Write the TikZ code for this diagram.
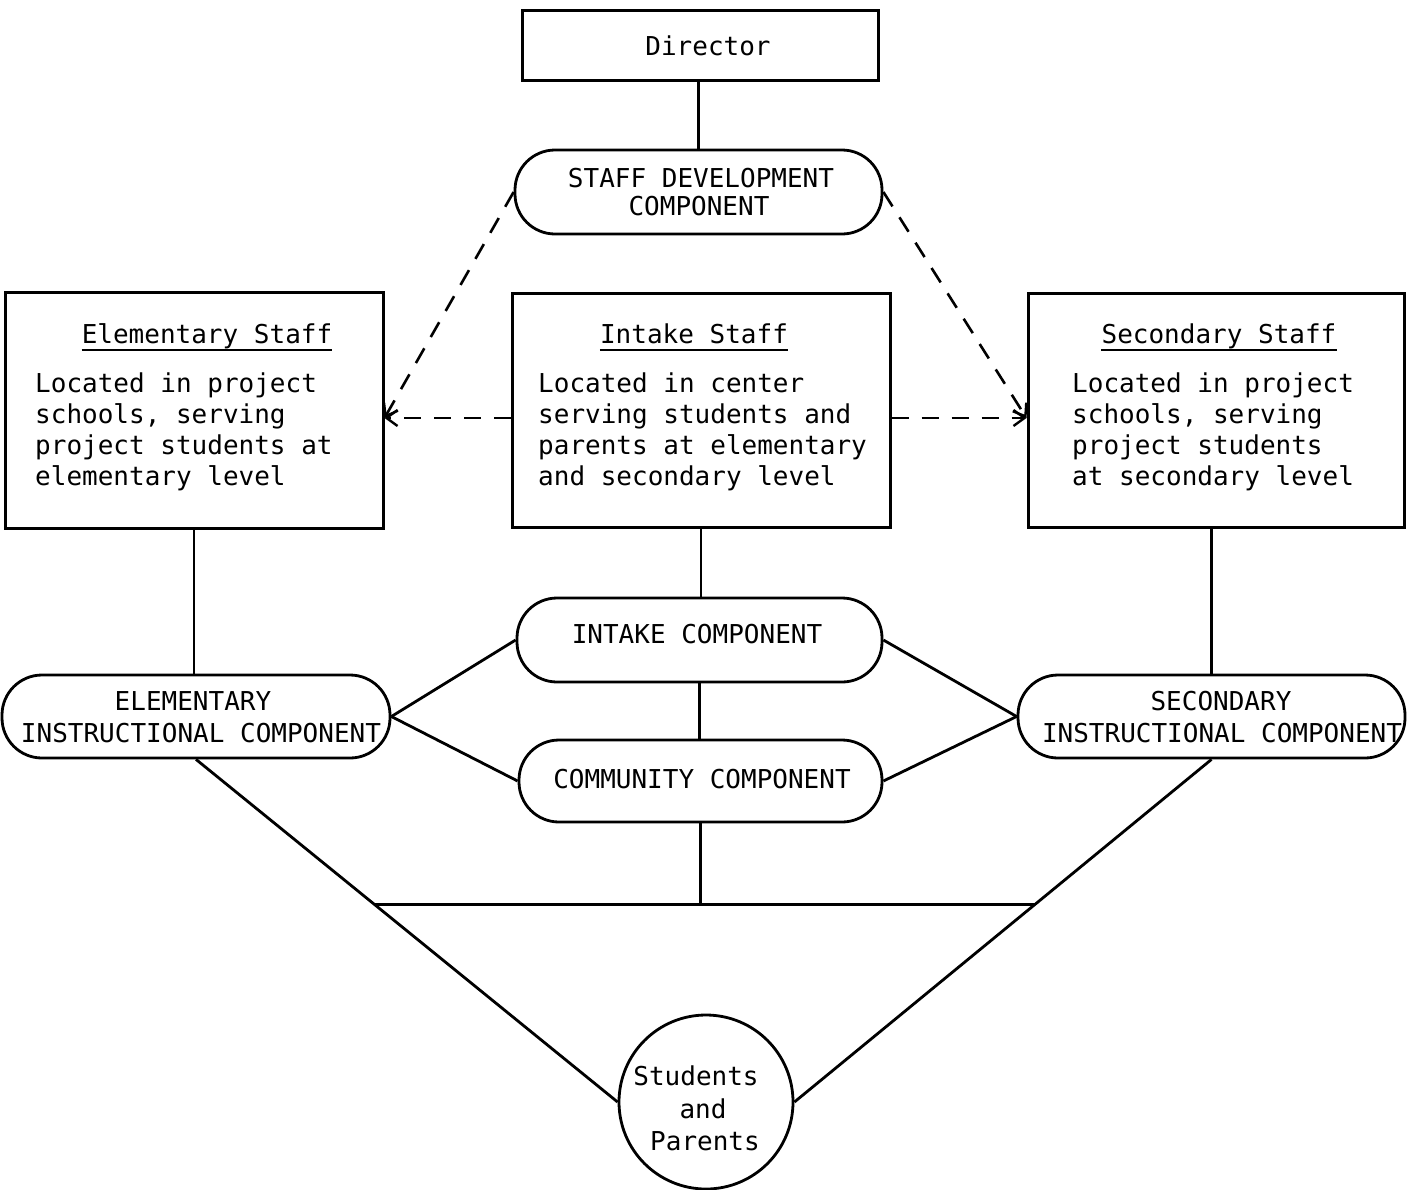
\documentclass[tikz,border=0pt]{standalone}
\usepackage{fontspec}
\setmonofont{DejaVu Sans Mono}
\usetikzlibrary{arrows.meta,calc}
\begin{document}
\begin{tikzpicture}[x=1pt,y=-1pt,
  every node/.style={font=\ttfamily\fontsize{26}{31}\selectfont},
  txt/.style={inner sep=0pt, anchor=base},
  ltxt/.style={inner sep=0pt, anchor=base west},
  box/.style={draw, line width=3pt, inner sep=0pt},
  pill/.style={draw, line width=2.8pt, inner sep=0pt, rounded corners=40pt},
  link/.style={line width=2.8pt},
  uline/.style={line width=2.2pt},
  dlink/.style={line width=2.6pt, dash pattern=on 17pt off 13pt,
    -{Straight Barb[length=11pt,width=16pt,line width=2.4pt]}},
]
% page frame
\fill[white] (0,0) rectangle (1407,1189);
\useasboundingbox (0,0) rectangle (1407,1189);

% ---------- boxes and pills ----------
\node[box, minimum width=356pt, minimum height=70pt] (director) at (700,45) {};
\node[pill, minimum width=367pt, minimum height=84pt] (staffdev) at (698.5,192) {};

\node[box, minimum width=378pt, minimum height=236pt] (elembox) at (194,410) {};
\node[box, minimum width=378pt, minimum height=234pt] (intakebox) at (701,410) {};
\node[box, minimum width=376pt, minimum height=234pt] (secbox) at (1216,410) {};

\node[pill, minimum width=365pt, minimum height=84pt] (intakecomp) at (699.5,640) {};
\node[pill, minimum width=363pt, minimum height=82pt] (community) at (700.5,781) {};
\node[pill, minimum width=388pt, minimum height=83pt] (elemcomp) at (196,716.5) {};
\node[pill, minimum width=387pt, minimum height=83pt] (seccomp) at (1211.5,716.5) {};

\node[draw, circle, line width=2.8pt, minimum size=174pt, inner sep=0pt] (people) at (706,1102) {};

% ---------- labels ----------
\node[txt] (dirlbl) at (708,55) {Director};
\node[txt] (sd1) at (701,187) {STAFF DEVELOPMENT};
\node[txt] (sd2) at (699,215) {COMPONENT};

\node[txt] (elt) at (207,343) {Elementary Staff};
\draw[uline] ($(elt.base west)+(0,7)$) -- ($(elt.base east)+(0,7)$);
\node[ltxt] (el1) at (35,392) {Located in project};
\node[ltxt] (el2) at (35,423) {schools, serving};
\node[ltxt] (el3) at (35,454) {project students at};
\node[ltxt] (el4) at (35,485) {elementary level};

\node[txt] (int) at (694,343) {Intake Staff};
\draw[uline] ($(int.base west)+(0,7)$) -- ($(int.base east)+(0,7)$);
\node[ltxt] (in1) at (538,392) {Located in center};
\node[ltxt] (in2) at (538,423) {serving students and};
\node[ltxt] (in3) at (538,454) {parents at elementary};
\node[ltxt] (in4) at (538,485) {and secondary level};

\node[txt] (set) at (1219,343) {Secondary Staff};
\draw[uline] ($(set.base west)+(0,7)$) -- ($(set.base east)+(0,7)$);
\node[ltxt] (se1) at (1072,392) {Located in project};
\node[ltxt] (se2) at (1072,423) {schools, serving};
\node[ltxt] (se3) at (1072,454) {project students};
\node[ltxt] (se4) at (1072,485) {at secondary level};

\node[txt] (iclbl) at (697,643) {INTAKE COMPONENT};
\node[txt] (cclbl) at (702,788) {COMMUNITY COMPONENT};
\node[txt] (ec1) at (193,710) {ELEMENTARY};
\node[txt] (ec2) at (201,742) {INSTRUCTIONAL COMPONENT};
\node[txt] (sc1) at (1221,710) {SECONDARY};
\node[txt] (sc2) at (1222,742) {INSTRUCTIONAL COMPONENT};

\node[txt] (sp1) at (696,1085) {Students};
\node[txt] (sp2) at (703,1118) {and};
\node[txt] (sp3) at (705,1150) {Parents};

% ---------- connectors ----------
\draw[link] (staffdev.north) -- (staffdev.north |- director.south);

\draw[dlink] (staffdev.west) -- ([yshift=-8pt]elembox.east);
\draw[dlink] ([yshift=-8pt]intakebox.west) -- ([yshift=-8pt]elembox.east);
\draw[dlink] ([yshift=-8pt]intakebox.east) -- ([yshift=-8pt]secbox.west);
\draw[dlink] (staffdev.east) -- ([yshift=-8pt]secbox.west);

\draw[link] (elembox.south) -- (elembox.south |- elemcomp.north);
\draw[link] (intakebox.south) -- (intakebox.south |- intakecomp.north);
\draw[link] (secbox.south -| seccomp.north) -- (seccomp.north);

\draw[link] (intakecomp.south) -- (intakecomp.south |- community.north);

\draw[link] (elemcomp.east) -- (intakecomp.west);
\draw[link] (elemcomp.east) -- (community.west);
\draw[link] (seccomp.west) -- (intakecomp.east);
\draw[link] (seccomp.west) -- (community.east);

\draw[link] (elemcomp.south) -- (people.west);
\draw[link] (seccomp.south) -- (people.east);

\coordinate (hl) at ($(elemcomp.south)!0.4236!(people.west)$);
\coordinate (hr) at ($(seccomp.south)!0.4236!(people.east)$);
\draw[link] (hl) -- (hr);
\draw[link] (community.south) -- (community.south |- hl);
\end{tikzpicture}
\end{document}
